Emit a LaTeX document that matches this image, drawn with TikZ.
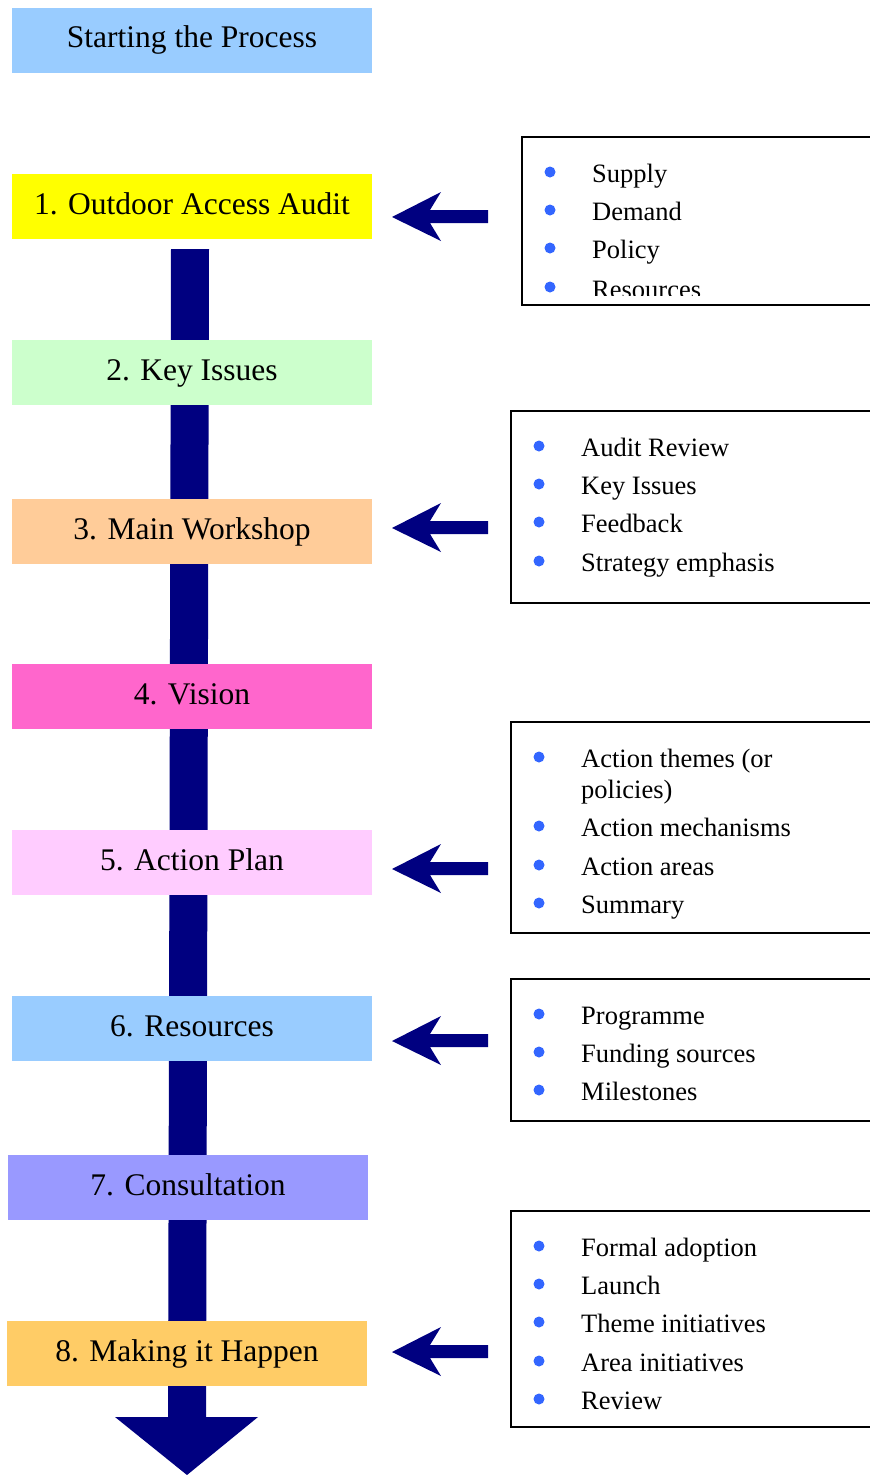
\documentclass[tikz,border=0pt]{standalone}
\usepackage{fontspec}
\setmainfont{Liberation Serif}
\definecolor{navyarrow}{HTML}{000080}
\definecolor{dotblue}{HTML}{3366FF}
\definecolor{cSky}{HTML}{99CCFF}
\definecolor{cYellow}{HTML}{FFFF00}
\definecolor{cMint}{HTML}{CCFFCC}
\definecolor{cPeach}{HTML}{FFCC99}
\definecolor{cMagenta}{HTML}{FF66CC}
\definecolor{cPink}{HTML}{FFCCFF}
\definecolor{cLilac}{HTML}{9999FF}
\definecolor{cGold}{HTML}{FFCC66}
\tikzset{
  stage/.style={minimum width=360pt, minimum height=65pt, inner sep=0pt,
    text height=22pt, text depth=6.3pt, font=\fontsize{31.5}{36}\selectfont},
  listbox/.style={draw=black, line width=2.8pt},
  item/.style={anchor=base west, inner sep=0pt, font=\fontsize{26.5}{30}\selectfont},
  larrow/.pic={\fill[navyarrow] (0,0) -- (49,-25) -- (38,-7) -- (96,-7) -- (96,6) -- (38,6) -- (49,24) -- cycle;}
}
\begin{document}
\begin{tikzpicture}[x=1pt,y=-1pt]
\useasboundingbox (0,0) rectangle (870,1475);
% main shaft with arrow head
\fill[navyarrow] (171,249) -- (209,249) -- (206,1417) -- (258,1417) -- (187,1475) -- (115,1417) -- (168,1417) -- cycle;
% stages
\node[stage, fill=cSky] (s0) at (192,40) {Starting the Process};
\node[stage, fill=cYellow] (s1) at (192,206.5) {1. Outdoor Access Audit};
\node[stage, fill=cMint] (s2) at (192,372.5) {2. Key Issues};
\node[stage, fill=cPeach] (s3) at (192,531.5) {3. Main Workshop};
\node[stage, fill=cMagenta] (s4) at (192,696.5) {4. Vision};
\node[stage, fill=cPink] (s5) at (192,862.5) {5. Action Plan};
\node[stage, fill=cSky] (s6) at (192,1028.5) {6. Resources};
\node[stage, fill=cLilac] (s7) at (188,1187.5) {7. Consultation};
\node[stage, fill=cGold] (s8) at (187,1353.5) {8. Making it Happen};
% side arrows
\pic at (392,217) {larrow};
\pic at (392,528) {larrow};
\pic at (392,869) {larrow};
\pic at (392,1041) {larrow};
\pic at (392,1352) {larrow};
% list box 1
\draw[listbox] (522,137) rectangle (890,305);
\foreach \yy in {172,210,248,287} \fill[dotblue] (550,\yy) circle (5.5pt);
\node[item] (a1) at (592,182) {Supply};
\node[item] (a2) at (592,220) {Demand};
\node[item] (a3) at (592,258) {Policy};
\begin{scope}
\clip (530,270) rectangle (860,295);
\node[item] (a4) at (592,298) {Resources};
\end{scope}
% list box 2
\draw[listbox] (511,411) rectangle (890,603);
\foreach \yy in {446,484,522,561} \fill[dotblue] (539,\yy) circle (5.5pt);
\node[item] (b1) at (581,456) {Audit Review};
\node[item] (b2) at (581,494) {Key Issues};
\node[item] (b3) at (581,532) {Feedback};
\node[item] (b4) at (581,571) {Strategy emphasis};
% list box 3
\draw[listbox] (511,722) rectangle (890,933);
\foreach \yy in {757,826,865,903} \fill[dotblue] (539,\yy) circle (5.5pt);
\node[item] (c1) at (581,767) {Action themes (or};
\node[item] (c1b) at (581,798) {policies)};
\node[item] (c2) at (581,836) {Action mechanisms};
\node[item] (c3) at (581,875) {Action areas};
\node[item] (c4) at (581,913) {Summary};
% list box 4
\draw[listbox] (511,979) rectangle (890,1121);
\foreach \yy in {1014,1052,1090} \fill[dotblue] (539,\yy) circle (5.5pt);
\node[item] (d1) at (581,1024) {Programme};
\node[item] (d2) at (581,1062) {Funding sources};
\node[item] (d3) at (581,1100) {Milestones};
% list box 5
\draw[listbox] (511,1211) rectangle (890,1427);
\foreach \yy in {1246,1284,1322,1361,1399} \fill[dotblue] (539,\yy) circle (5.5pt);
\node[item] (e1) at (581,1256) {Formal adoption};
\node[item] (e2) at (581,1294) {Launch};
\node[item] (e3) at (581,1332) {Theme initiatives};
\node[item] (e4) at (581,1371) {Area initiatives};
\node[item] (e5) at (581,1409) {Review};
\end{tikzpicture}
\end{document}
